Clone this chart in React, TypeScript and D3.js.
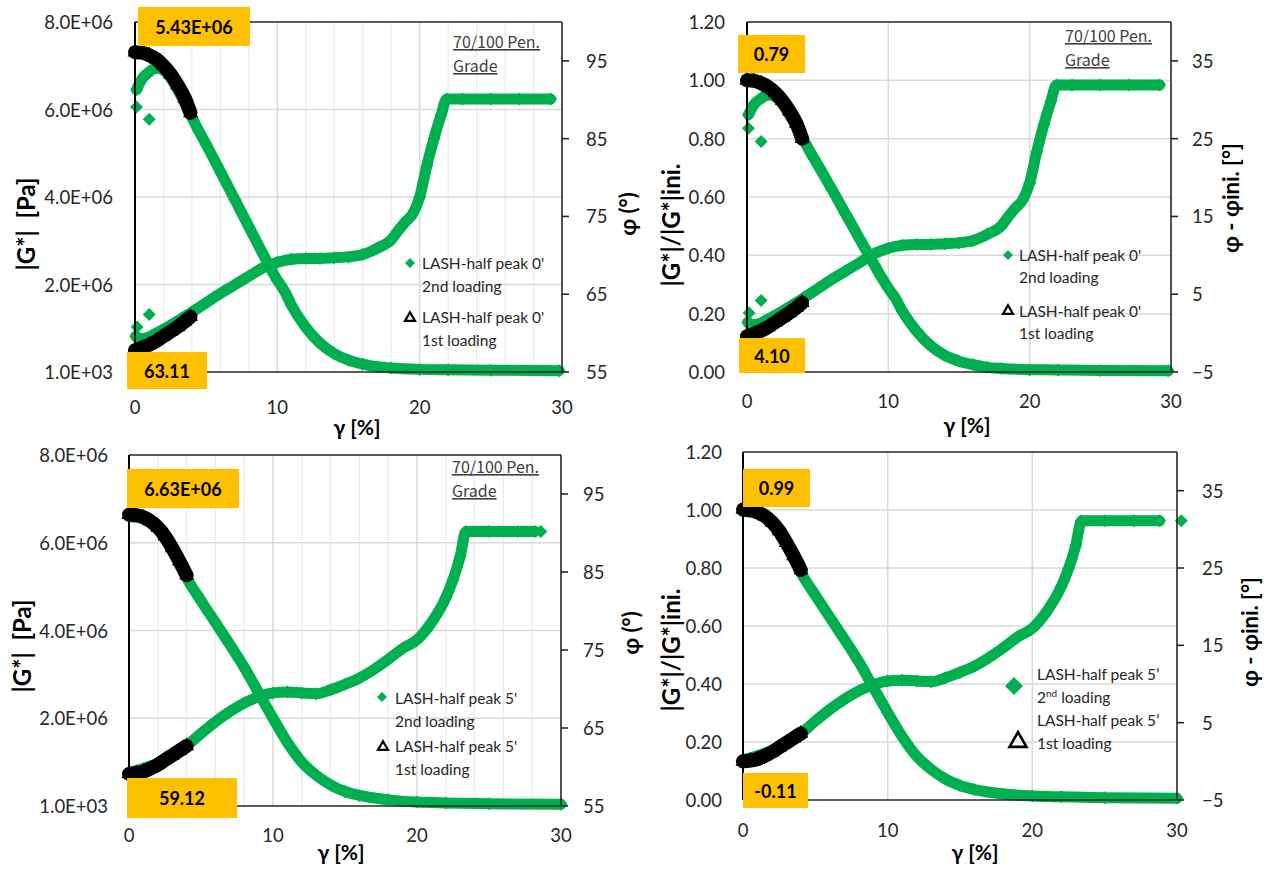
import React from "react";
import * as d3 from "d3";

// ---------------- Axis ticks / labels ----------------
const gammaTicks = [0, 10, 20, 30];
const gammaMinorGrid = [2, 4, 6, 8, 12, 14, 16, 18, 22, 24, 26, 28];
const gammaMajorGrid = [10, 20];
const gPaTicks = [0, 2e6, 4e6, 6e6, 8e6];
const gPaTickLabels = ["1.0E+03", "2.0E+06", "4.0E+06", "6.0E+06", "8.0E+06"];
const gNormTicks = [0, 0.2, 0.4, 0.6, 0.8, 1.0, 1.2];
const gNormTickLabels = ["0.00", "0.20", "0.40", "0.60", "0.80", "1.00", "1.20"];
const phiTicks = [55, 65, 75, 85, 95];
const dphiTicks = [-5, 5, 15, 25, 35];

// ---------------- Panel A : LASH-half peak 0' (absolute) ----------------
const a1Gamma = [0, 0.5, 1.0, 1.5, 2.0, 2.5, 3.0, 3.5, 3.9];
const a1G = [7.31e6, 7.3e6, 7.24e6, 7.15e6, 7.0e6, 6.81e6, 6.56e6, 6.26e6, 5.92e6];
const a1Phi = [57.8, 58.1, 58.5, 59.0, 59.6, 60.2, 60.8, 61.5, 62.1];
const a2GammaG = [0.1, 0.5, 1.0, 1.5, 2.2, 3.0, 3.8, 4.5, 5, 6, 7, 8, 9, 9.5, 10, 10.5, 11, 12, 13, 14, 15, 16, 17, 18, 20, 22, 25, 29.8];
const a2G = [6.45e6, 6.7e6, 6.86e6, 6.95e6, 6.85e6, 6.45e6, 5.95e6, 5.5e6, 5.2e6, 4.58e6, 3.95e6, 3.32e6, 2.69e6, 2.38e6, 2.1e6, 1.85e6, 1.52e6, 1.02e6, 0.66e6, 0.42e6, 0.27e6, 0.18e6, 0.12e6, 0.09e6, 0.06e6, 0.05e6, 0.04e6, 0.03e6];
const a2GammaPhi = [0.05, 0.3, 0.7, 1.2, 1.8, 2.5, 3.2, 4.0, 5, 6, 7, 8, 9, 10, 11, 12, 13, 14, 15, 16, 17, 18, 18.5, 19, 19.5, 20, 20.5, 21, 21.5, 21.9, 23, 25, 27, 29.2];
const a2Phi = [59.6, 59.3, 59.3, 59.7, 60.3, 61.0, 61.8, 62.7, 63.9, 65.1, 66.2, 67.3, 68.4, 69.1, 69.5, 69.6, 69.6, 69.7, 69.8, 70.1, 70.9, 72.0, 73.2, 74.3, 75.3, 77.5, 81.5, 85.0, 88.0, 90.1, 90.1, 90.1, 90.1, 90.1];
const a2OutGammaG = [0.1, 1.0];
const a2OutG = [6.06e6, 5.78e6];
const a2OutGammaPhi = [0.15, 1.0];
const a2OutPhi = [60.8, 62.4];

// ---------------- Panel B : LASH-half peak 0' (normalised) ----------------
const b1Gamma = [0, 0.5, 1.0, 1.5, 2.0, 2.5, 3.0, 3.5, 3.9];
const b1G = [1.0, 0.998, 0.99, 0.977, 0.957, 0.93, 0.895, 0.852, 0.8];
const b1Phi = [-0.4, -0.1, 0.3, 0.8, 1.4, 2.0, 2.6, 3.3, 3.9];
const b2GammaG = [0.1, 0.5, 1.0, 1.5, 2.2, 3.0, 3.8, 4.5, 5, 6, 7, 8, 9, 9.5, 10, 10.5, 11, 12, 13, 14, 15, 16, 17, 18, 20, 22, 25, 29.8];
const b2G = [0.882, 0.917, 0.938, 0.951, 0.937, 0.882, 0.814, 0.752, 0.711, 0.627, 0.54, 0.454, 0.368, 0.326, 0.287, 0.253, 0.208, 0.14, 0.09, 0.057, 0.037, 0.025, 0.016, 0.012, 0.008, 0.007, 0.005, 0.004];
const b2GammaPhi = [0.05, 0.3, 0.7, 1.2, 1.8, 2.5, 3.2, 4.0, 5, 6, 7, 8, 9, 10, 11, 12, 13, 14, 15, 16, 17, 18, 18.5, 19, 19.5, 20, 20.5, 21, 21.5, 21.9, 23, 25, 27, 29.2];
const b2Phi = [1.4, 1.1, 1.1, 1.5, 2.1, 2.8, 3.6, 4.5, 5.7, 6.9, 8.0, 9.1, 10.2, 10.9, 11.3, 11.4, 11.4, 11.5, 11.6, 11.9, 12.7, 13.8, 15.0, 16.1, 17.1, 19.3, 23.3, 26.8, 29.8, 31.9, 31.9, 31.9, 31.9, 31.9];
const b2OutGammaG = [0.1, 1.0];
const b2OutG = [0.836, 0.79];
const b2OutGammaPhi = [0.15, 1.0];
const b2OutPhi = [2.6, 4.2];

// ---------------- Panel C : LASH-half peak 5' (absolute) ----------------
const c1Gamma = [0, 0.5, 1.0, 1.5, 2.0, 2.5, 3.0, 3.5, 4.0];
const c1G = [6.64e6, 6.63e6, 6.58e6, 6.49e6, 6.35e6, 6.15e6, 5.88e6, 5.58e6, 5.26e6];
const c1Phi = [59.1, 59.2, 59.4, 59.8, 60.3, 60.9, 61.5, 62.1, 62.7];
const c2GammaG = [0, 1, 2, 3, 4, 5, 6, 7, 8, 9, 10, 11, 12, 13, 14, 15, 16, 18, 20, 22, 25, 30];
const c2G = [6.6e6, 6.55e6, 6.33e6, 5.88e6, 5.2e6, 4.68e6, 4.18e6, 3.68e6, 3.16e6, 2.58e6, 2.0e6, 1.45e6, 1.0e6, 0.7e6, 0.48e6, 0.33e6, 0.24e6, 0.14e6, 0.09e6, 0.07e6, 0.05e6, 0.04e6];
const c2GammaPhi = [0, 2, 4, 5, 6, 7, 8, 9, 10, 11, 12, 13, 14, 15, 16, 17, 18, 19, 20, 21, 22, 22.5, 23, 23.4, 25, 27, 28.2];
const c2Phi = [59.3, 60.5, 62.7, 64.3, 65.8, 67.1, 68.2, 69.0, 69.5, 69.6, 69.5, 69.4, 69.9, 70.6, 71.4, 72.5, 73.8, 75.2, 76.3, 78.5, 81.7, 84.0, 87.0, 90.2, 90.2, 90.2, 90.2];
const c2OutGammaPhi = [28.6];
const c2OutPhi = [90.2];

// ---------------- Panel D : LASH-half peak 5' (normalised) ----------------
const d1Gamma = [0, 0.5, 1.0, 1.5, 2.0, 2.5, 3.0, 3.5, 4.0];
const d1G = [1.002, 1.0, 0.992, 0.979, 0.958, 0.928, 0.887, 0.842, 0.793];
const d1Phi = [0.0, 0.1, 0.3, 0.7, 1.2, 1.8, 2.4, 3.0, 3.6];
const d2GammaG = [0, 1, 2, 3, 4, 5, 6, 7, 8, 9, 10, 11, 12, 13, 14, 15, 16, 18, 20, 22, 25, 30];
const d2G = [0.995, 0.988, 0.955, 0.887, 0.784, 0.706, 0.63, 0.555, 0.477, 0.389, 0.302, 0.219, 0.151, 0.106, 0.072, 0.05, 0.036, 0.021, 0.014, 0.011, 0.008, 0.006];
const d2GammaPhi = [0, 2, 4, 5, 6, 7, 8, 9, 10, 11, 12, 13, 14, 15, 16, 17, 18, 19, 20, 21, 22, 22.5, 23, 23.4, 25, 27, 28.8];
const d2Phi = [0.2, 1.4, 3.6, 5.2, 6.7, 8.0, 9.1, 9.9, 10.4, 10.5, 10.4, 10.3, 10.8, 11.5, 12.3, 13.4, 14.7, 16.1, 17.2, 19.4, 22.6, 24.9, 27.9, 31.1, 31.1, 31.1, 31.1];
const d2OutGammaPhi = [30.3];
const d2OutPhi = [31.1];

// ---------------- Styles ----------------
const GREEN = "#00B050";
const GOLD = "#FFC000";
const FONT = "Lato, 'Noto Sans', 'DejaVu Sans', sans-serif";
const TICK_COLOR = "#262626";

function diamondPath(cx: number, cy: number, r: number) {
  return `M${cx},${cy - r}L${cx + r},${cy}L${cx},${cy + r}L${cx - r},${cy}Z`;
}
function trianglePath(cx: number, cy: number, s: number) {
  const h = s * 0.866;
  return `M${cx},${cy - (2 * h) / 3}L${cx + s / 2},${cy + h / 3}L${cx - s / 2},${cy + h / 3}Z`;
}

type Seg = { t: string; sup?: boolean };
interface PanelCfg {
  left: number; right: number; top: number; bottom: number;
  yL: [number, number]; yLTicks: number[]; yLLabels: string[];
  yR: [number, number]; yRTicks: number[];
  minorGrid: boolean;
  black: { x: number[]; g: number[]; phi: number[] };
  greenG: { x: number[]; y: number[] };
  greenPhi: { x: number[]; y: number[] };
  outG?: { x: number[]; y: number[] };
  outPhi?: { x: number[]; y: number[] };
  leftTitle: string; leftTitlePos: [number, number];
  rightTitle: string; rightTitlePos: [number, number];
  xTitlePos: [number, number];
  xLabelBase: number; leftLabelX: number; rightLabelX: number;
  boxes: { x: number; y: number; w: number; h: number; text: string }[];
  grade?: { x: number; y1: number; y2: number };
  legend: {
    big: boolean; textX: number; lines: Seg[][]; baselines: number[];
    diamond: [number, number]; tri: [number, number];
  };
}

function Band({ xs, ys, sx, sy, color, width, marker }: any) {
  const pts: [number, number][] = xs.map((x: number, i: number) => [sx(x), sy(ys[i])]);
  const line = d3.line().curve(d3.curveMonotoneX)(pts) || "";
  return (
    <g>
      <path d={line} stroke={color} strokeWidth={width} fill="none" strokeLinejoin="round" strokeLinecap="round" />
      {pts.map(([px, py], i) => (
        <path key={i} d={marker === "tri" ? trianglePath(px, py, 15) : diamondPath(px, py, 6.5)} fill={color} />
      ))}
    </g>
  );
}

function Panel({ cfg }: { cfg: PanelCfg }) {
  const sx = d3.scaleLinear().domain([0, 30]).range([cfg.left, cfg.right]);
  const syL = d3.scaleLinear().domain(cfg.yL).range([cfg.bottom, cfg.top]);
  const syR = d3.scaleLinear().domain(cfg.yR).range([cfg.bottom, cfg.top]);
  const lg = cfg.legend;
  return (
    <g>
      {/* gridlines */}
      {cfg.minorGrid &&
        gammaMinorGrid.map((g) => (
          <line key={"m" + g} x1={sx(g)} x2={sx(g)} y1={cfg.top} y2={cfg.bottom} stroke="#EBEBEB" strokeWidth={1.2} />
        ))}
      {gammaMajorGrid.map((g) => (
        <line key={"M" + g} x1={sx(g)} x2={sx(g)} y1={cfg.top} y2={cfg.bottom} stroke="#D9D9D9" strokeWidth={1.5} />
      ))}
      {cfg.yLTicks.slice(1, -1).map((v) => (
        <line key={"h" + v} x1={cfg.left} x2={cfg.right} y1={syL(v)} y2={syL(v)} stroke="#D9D9D9" strokeWidth={1.5} />
      ))}

      {/* green 2nd loading */}
      <Band xs={cfg.greenG.x} ys={cfg.greenG.y} sx={sx} sy={syL} color={GREEN} width={11} marker="dia" />
      <Band xs={cfg.greenPhi.x} ys={cfg.greenPhi.y} sx={sx} sy={syR} color={GREEN} width={11} marker="dia" />
      {cfg.outG && cfg.outG.x.map((x, i) => <path key={"og" + i} d={diamondPath(sx(x), syL(cfg.outG!.y[i]), 6.5)} fill={GREEN} />)}
      {cfg.outPhi && cfg.outPhi.x.map((x, i) => <path key={"op" + i} d={diamondPath(sx(x), syR(cfg.outPhi!.y[i]), 6.5)} fill={GREEN} />)}

      {/* black 1st loading */}
      <Band xs={cfg.black.x} ys={cfg.black.g} sx={sx} sy={syL} color="#000" width={14} marker="tri" />
      <Band xs={cfg.black.x} ys={cfg.black.phi} sx={sx} sy={syR} color="#000" width={14} marker="tri" />

      {/* frame */}
      <line x1={cfg.left} x2={cfg.right} y1={cfg.top} y2={cfg.top} stroke="#262626" strokeWidth={1.6} />
      <line x1={cfg.left} x2={cfg.right} y1={cfg.bottom} y2={cfg.bottom} stroke="#262626" strokeWidth={1.6} />
      <line x1={cfg.left} x2={cfg.left} y1={cfg.top} y2={cfg.bottom} stroke="#000" strokeWidth={2} />
      <line x1={cfg.right} x2={cfg.right} y1={cfg.top} y2={cfg.bottom} stroke="#262626" strokeWidth={1.6} />
      {cfg.yRTicks.map((v) => (
        <line key={"rt" + v} x1={cfg.right} x2={cfg.right + 7} y1={syR(v)} y2={syR(v)} stroke="#262626" strokeWidth={1.6} />
      ))}

      {/* tick labels */}
      {cfg.yLTicks.map((v, i) => (
        <text key={"yl" + v} x={cfg.leftLabelX} y={syL(v)} textAnchor="end" dominantBaseline="central" fontSize={18.5} fill={TICK_COLOR}>
          {cfg.yLLabels[i]}
        </text>
      ))}
      {cfg.yRTicks.map((v) => (
        <text key={"yr" + v} x={cfg.rightLabelX} y={syR(v)} textAnchor="start" dominantBaseline="central" fontSize={18.5} fill={TICK_COLOR}>
          {d3.format("d")(v)}
        </text>
      ))}
      {gammaTicks.map((v) => (
        <text key={"x" + v} x={sx(v)} y={cfg.xLabelBase} textAnchor="middle" fontSize={18.5} fill={TICK_COLOR}>
          {v}
        </text>
      ))}

      {/* axis titles */}
      <text transform={`translate(${cfg.leftTitlePos[0]},${cfg.leftTitlePos[1]}) rotate(-90)`} textAnchor="middle" dominantBaseline="central" fontSize={24} fontWeight="bold" fill="#000" style={{ whiteSpace: "pre" }}>
        {cfg.leftTitle}
      </text>
      <text transform={`translate(${cfg.rightTitlePos[0]},${cfg.rightTitlePos[1]}) rotate(-90)`} textAnchor="middle" dominantBaseline="central" fontSize={22} fontWeight="bold" fill="#000">
        {cfg.rightTitle}
      </text>
      <text x={cfg.xTitlePos[0]} y={cfg.xTitlePos[1]} textAnchor="middle" fontSize={21} fontWeight="bold" fill="#000">
        {"γ [%]"}
      </text>

      {/* grade note */}
      {cfg.grade && (
        <g fontFamily="'Noto Sans CJK JP', 'Noto Sans', sans-serif" fontSize={16} fill="#404040">
          <text x={cfg.grade.x} y={cfg.grade.y1} textDecoration="underline">70/100 Pen.</text>
          <text x={cfg.grade.x} y={cfg.grade.y2} textDecoration="underline">Grade</text>
        </g>
      )}

      {/* legend */}
      <path d={diamondPath(lg.diamond[0], lg.diamond[1], lg.big ? 9 : 5)} fill={GREEN} />
      <path d={trianglePath(lg.tri[0], lg.tri[1], lg.big ? 17 : 10)} fill="none" stroke="#000" strokeWidth={lg.big ? 2.6 : 2.2} strokeLinejoin="miter" />
      {lg.lines.map((segs, i) => (
        <text key={"lg" + i} x={lg.textX} y={lg.baselines[i]} fontSize={15.5} fill="#262626">
          {segs.map((s, j) =>
            s.sup ? (
              <tspan key={j} fontSize={10} dy={-6}>{s.t}</tspan>
            ) : (
              <tspan key={j} dy={j > 0 && segs[j - 1].sup ? 6 : 0}>{s.t}</tspan>
            )
          )}
        </text>
      ))}

      {/* value boxes */}
      {cfg.boxes.map((b, i) => (
        <g key={"b" + i}>
          <rect x={b.x} y={b.y} width={b.w} height={b.h} fill={GOLD} />
          <text x={b.x + b.w / 2} y={b.y + b.h / 2} textAnchor="middle" dominantBaseline="central" fontSize={18} fontWeight="bold" fill="#000">
            {b.text}
          </text>
        </g>
      ))}
    </g>
  );
}

const legend0: Seg[][] = [[{ t: "LASH-half peak 0'" }], [{ t: "2nd loading" }], [{ t: "LASH-half peak 0'" }], [{ t: "1st loading" }]];
const legend5: Seg[][] = [[{ t: "LASH-half peak 5'" }], [{ t: "2nd loading" }], [{ t: "LASH-half peak 5'" }], [{ t: "1st loading" }]];
const legend5b: Seg[][] = [[{ t: "LASH-half peak 5’" }], [{ t: "2" }, { t: "nd", sup: true }, { t: " loading" }], [{ t: "LASH-half peak 5’" }], [{ t: "1st loading" }]];

const panels: PanelCfg[] = [
  {
    left: 135, right: 562, top: 22, bottom: 372,
    yL: [0, 8e6], yLTicks: gPaTicks, yLLabels: gPaTickLabels,
    yR: [55, 100], yRTicks: phiTicks, minorGrid: true,
    black: { x: a1Gamma, g: a1G, phi: a1Phi },
    greenG: { x: a2GammaG, y: a2G }, greenPhi: { x: a2GammaPhi, y: a2Phi },
    outG: { x: a2OutGammaG, y: a2OutG }, outPhi: { x: a2OutGammaPhi, y: a2OutPhi },
    leftTitle: "|G*|  [Pa]", leftTitlePos: [25, 224],
    rightTitle: "φ (°)", rightTitlePos: [627, 214],
    xTitlePos: [357, 435], xLabelBase: 414, leftLabelX: 113, rightLabelX: 586,
    boxes: [
      { x: 138, y: 7, w: 112, h: 39, text: "5.43E+06" },
      { x: 127, y: 352, w: 80, h: 37, text: "63.11" },
    ],
    grade: { x: 453, y1: 48, y2: 72 },
    legend: { big: false, textX: 422, lines: legend0, baselines: [269, 292, 323, 346], diamond: [410, 263], tri: [410, 318] },
  },
  {
    left: 747, right: 1171, top: 22, bottom: 372,
    yL: [0, 1.2], yLTicks: gNormTicks, yLLabels: gNormTickLabels,
    yR: [-5, 40], yRTicks: dphiTicks, minorGrid: false,
    black: { x: b1Gamma, g: b1G, phi: b1Phi },
    greenG: { x: b2GammaG, y: b2G }, greenPhi: { x: b2GammaPhi, y: b2Phi },
    outG: { x: b2OutGammaG, y: b2OutG }, outPhi: { x: b2OutGammaPhi, y: b2OutPhi },
    leftTitle: "|G*|/|G*|ini.", leftTitlePos: [670, 225],
    rightTitle: "φ - φini. [°]", rightTitlePos: [1230, 198],
    xTitlePos: [967, 433], xLabelBase: 408, leftLabelX: 725, rightLabelX: 1192,
    boxes: [
      { x: 738, y: 35, w: 67, h: 38, text: "0.79" },
      { x: 739, y: 338, w: 66, h: 35, text: "4.10" },
    ],
    grade: { x: 1065, y1: 42, y2: 66 },
    legend: { big: false, textX: 1019, lines: legend0, baselines: [261, 283, 317, 339], diamond: [1008, 255], tri: [1008, 311] },
  },
  {
    left: 129, right: 561, top: 455, bottom: 806,
    yL: [0, 8e6], yLTicks: gPaTicks, yLLabels: gPaTickLabels,
    yR: [55, 100], yRTicks: phiTicks, minorGrid: true,
    black: { x: c1Gamma, g: c1G, phi: c1Phi },
    greenG: { x: c2GammaG, y: c2G }, greenPhi: { x: c2GammaPhi, y: c2Phi },
    outPhi: { x: c2OutGammaPhi, y: c2OutPhi },
    leftTitle: "|G*|  [Pa]", leftTitlePos: [21, 646],
    rightTitle: "φ (°)", rightTitlePos: [630, 633],
    xTitlePos: [341, 860], xLabelBase: 842, leftLabelX: 108, rightLabelX: 583,
    boxes: [
      { x: 127, y: 469, w: 112, h: 39, text: "6.63E+06" },
      { x: 127, y: 778, w: 110, h: 40, text: "59.12" },
    ],
    grade: { x: 452, y1: 473, y2: 497 },
    legend: { big: false, textX: 395, lines: legend5, baselines: [704, 727, 752, 775], diamond: [382, 697], tri: [383, 747] },
  },
  {
    left: 743, right: 1177, top: 452, bottom: 800,
    yL: [0, 1.2], yLTicks: gNormTicks, yLLabels: gNormTickLabels,
    yR: [-5, 40], yRTicks: dphiTicks, minorGrid: false,
    black: { x: d1Gamma, g: d1G, phi: d1Phi },
    greenG: { x: d2GammaG, y: d2G }, greenPhi: { x: d2GammaPhi, y: d2Phi },
    outPhi: { x: d2OutGammaPhi, y: d2OutPhi },
    leftTitle: "|G*|/|G*|ini.", leftTitlePos: [670, 650],
    rightTitle: "φ - φini. [°]", rightTitlePos: [1249, 632],
    xTitlePos: [975, 860], xLabelBase: 837, leftLabelX: 722, rightLabelX: 1202,
    boxes: [
      { x: 743, y: 469, w: 67, h: 38, text: "0.99" },
      { x: 743, y: 773, w: 65, h: 35, text: "-0.11" },
    ],
    legend: { big: true, textX: 1037, lines: legend5b, baselines: [680, 703, 726, 749], diamond: [1014, 686], tri: [1018, 742] },
  },
];

export default function App() {
  return (
    <svg width={1280} height={870} style={{ position: "absolute", left: 0, top: 0 }} fontFamily={FONT}>
      <rect width={1280} height={870} fill="#fff" />
      {panels.map((p, i) => (
        <Panel key={i} cfg={p} />
      ))}
    </svg>
  );
}
